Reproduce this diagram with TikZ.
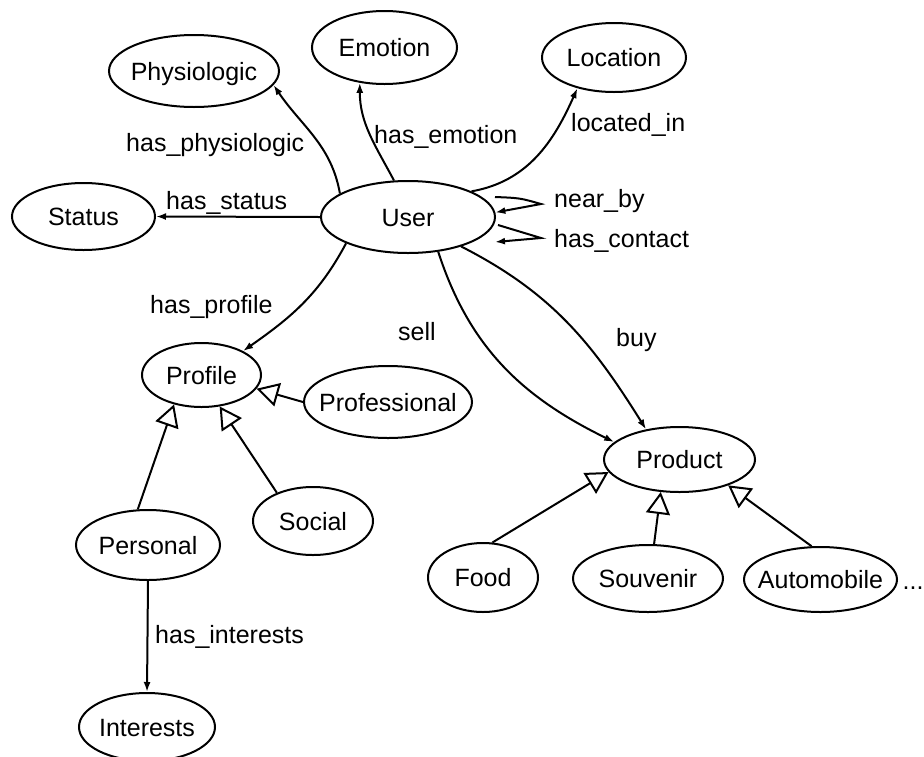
\documentclass[tikz,border=0pt]{standalone}
\usepackage{fontspec}
\setmainfont{Liberation Sans}
\usetikzlibrary{arrows.meta,shapes.geometric}
% class name set on the centre of its ellipse, taking no room of its own
\newcommand\clstext[1]{\smash{\raisebox{-0.36em}{\makebox[0pt]{#1}}}}
\begin{document}
\begin{tikzpicture}[x=1pt,y=1pt,
  txt/.style={font=\fontsize{25}{29}\selectfont},
  cls/.style={ellipse,draw,line width=2pt,inner sep=0pt,txt},
  rel/.style={draw,line width=2pt,-{Latex[length=10pt,width=7pt]}},
  isa/.style={draw,line width=2pt,-{Triangle[length=22pt,width=24pt,fill=white]}},
  lbl/.style={anchor=base west,inner sep=0pt,txt}]
\fill[white] (0,0) rectangle (924,-756);
\useasboundingbox (0,0) rectangle (924,-756);

% classes
\node[cls,minimum width=170pt,minimum height=72pt] (phys) at (194,-71) {\clstext{Physiologic}};
\node[cls,minimum width=145pt,minimum height=73pt] (emotion) at (384.5,-47.5) {\clstext{Emotion}};
\node[cls,minimum width=144pt,minimum height=69pt] (location) at (614,-57.5) {\clstext{Location}};
\node[cls,minimum width=174pt,minimum height=72pt] (user) at (408,-217) {\clstext{User}};
\node[cls,minimum width=143pt,minimum height=67pt] (status) at (83.5,-216.5) {\clstext{Status}};
\node[cls,minimum width=119pt,minimum height=64pt] (profile) at (201.5,-375) {\clstext{Profile}};
\node[cls,minimum width=168pt,minimum height=72pt] (professional) at (388,-402) {\clstext{Professional}};
\node[cls,minimum width=120pt,minimum height=68pt] (social) at (313,-521) {\clstext{Social}};
\node[cls,minimum width=144pt,minimum height=70pt] (personal) at (148,-545) {\clstext{Personal}};
\node[cls,minimum width=136pt,minimum height=68pt] (interests) at (147,-727) {\clstext{Interests}};
\node[cls,minimum width=151pt,minimum height=65pt] (product) at (679.5,-459.5) {\clstext{Product}};
\node[cls,minimum width=110pt,minimum height=69pt] (food) at (483,-577.5) {\clstext{Food}};
\node[cls,minimum width=150pt,minimum height=67pt] (souvenir) at (648,-578.5) {\clstext{Souvenir}};
\node[cls,minimum width=153pt,minimum height=65pt] (automobile) at (820.5,-579.5) {\clstext{Automobile}};
\node[lbl] (more) at (902.5,-589) {...};

% relations of the user
\draw[rel] (user.161) to[out=100,in=-56] (phys.-10);
\draw[rel] (user.111) to[out=118,in=-90] (emotion.-125);
\draw[rel] (user.22) to[out=10,in=-114] (location.-140);
\draw[rel] (user.west) -- (status.east);
\draw[rel] (user.-157) to[out=-118,in=35] (profile.30);
\draw[rel] (user.-49) to[out=-72,in=154] (product.165);
\draw[rel] (user.-29) to[out=-27,in=122] (product.138);
\draw[rel] (personal.south) -- (interests.north);

% reflexive relations
\coordinate (nbS) at (495,-197);
\coordinate (nbT) at (541,-204);
\coordinate (hcS) at (498,-225);
\coordinate (hcT) at (541,-238);
\coordinate (hcE) at (495,-242);
\draw[rel] (nbS) .. controls (520,-198) .. (nbT) -- (user.3);
\draw[rel] (hcS) -- (hcT) -- (hcE);

% generalisations
\draw[isa] (professional.west) -- (profile.-14);
\draw[isa] (social.142) -- (profile.-60);
\draw[isa] (personal.106) -- (profile.-133);
\draw[isa] (food.75) -- (product.-170);
\draw[isa] (souvenir.80) -- (product.-120);
\draw[isa] (automobile.105) -- (product.-28);

% relation names
\node[lbl] (l1) at (126,-151) {has\_physiologic};
\node[lbl] (l2) at (374,-143) {has\_emotion};
\node[lbl] (l3) at (571,-131) {located\_in};
\node[lbl] (l4) at (166,-209) {has\_status};
\node[lbl] (l5) at (554,-207) {near\_by};
\node[lbl] (l6) at (554,-247) {has\_contact};
\node[lbl] (l7) at (150,-313) {has\_profile};
\node[lbl] (l8) at (398,-340) {sell};
\node[lbl] (l9) at (616,-346) {buy};
\node[lbl] (l10) at (155,-643) {has\_interests};
\end{tikzpicture}
\end{document}
